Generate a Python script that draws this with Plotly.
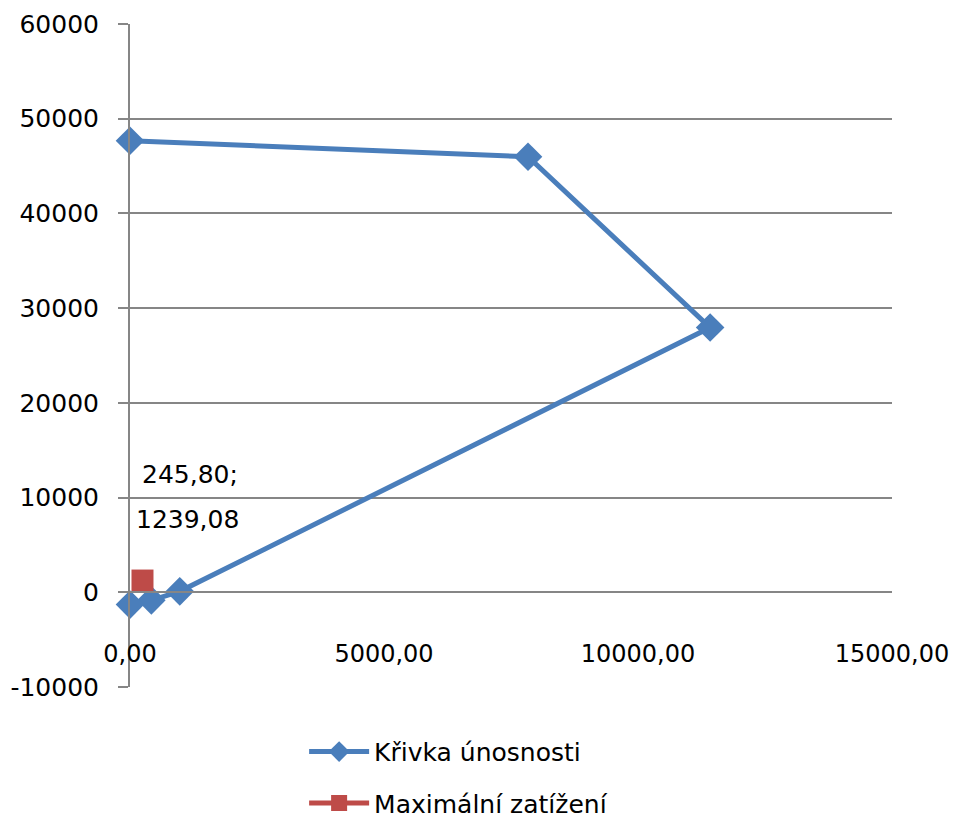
import plotly.graph_objects as go

# Křivka únosnosti (capacity curve): M on x, N on y
curve_x = [0, 7835, 11420, 980, 420, 0]
curve_y = [47680, 45990, 27950, 100, -850, -1300]

# Maximální zatížení (max load)
load_x = [245.80]
load_y = [1239.08]

x_ticks = [0, 5000, 10000, 15000]
x_ticktext = ["0,00", "5000,00", "10000,00", "15000,00"]
y_ticks = [-10000, 0, 10000, 20000, 30000, 40000, 50000, 60000]
y_ticktext = ["-10000", "0", "10000", "20000", "30000", "40000", "50000", "60000"]

BLUE = "#4A7EBB"
RED = "#BE4B48"
GRID = "#868686"
FONT = "DejaVu Sans"


def _cz(v):
    return f"{v:.2f}".replace(".", ",")


fig = go.Figure()

fig.add_trace(go.Scatter(
    x=curve_x, y=curve_y,
    name="Křivka únosnosti",
    mode="lines+markers",
    line=dict(color=BLUE, width=5),
    marker=dict(symbol="diamond", size=22, color=BLUE),
    cliponaxis=False,
    legendgroup="a",
))

fig.add_trace(go.Scatter(
    x=load_x, y=load_y,
    name="Maximální zatížení",
    mode="lines+markers",
    line=dict(color=RED, width=5),
    marker=dict(symbol="square", size=22, color=RED),
    cliponaxis=False,
    legendgroup="b",
))

# data label of the load point, two lines as in the original
fig.add_annotation(x=load_x[0], y=load_y[0], text=_cz(load_x[0]) + ";",
                   showarrow=False, xshift=48, yshift=106,
                   font=dict(family=FONT, size=25, color="#000"))
fig.add_annotation(x=load_x[0], y=load_y[0], text=_cz(load_y[0]),
                   showarrow=False, xshift=45, yshift=61,
                   font=dict(family=FONT, size=25, color="#000"))

y0_frac = 10000 / 70000

# page body keeps an 8px margin, so the figure is 16px smaller than the window
fig.update_layout(
    width=941, height=813,
    margin=dict(l=122, r=57, t=16, b=134),
    plot_bgcolor="white", paper_bgcolor="white",
    font=dict(family=FONT, size=25, color="#000"),
    showlegend=True,
    legend=dict(
        x=0.2285, xanchor="left", xref="paper",
        y=0.1134, yanchor="top", yref="container",
        traceorder="grouped", tracegroupgap=16, itemwidth=60,
        font=dict(family=FONT, size=25, color="#000"),
        bgcolor="rgba(0,0,0,0)",
    ),
    xaxis=dict(
        range=[0, 15000], automargin=False,
        tickvals=x_ticks, ticktext=x_ticktext,
        tickfont=dict(size=24), ticklabeloverflow="allow",
        showgrid=False, zeroline=False,
        showline=True, linecolor=GRID, linewidth=2,
        anchor="free", position=y0_frac,
        ticks="", ticklabelstandoff=40,
    ),
    yaxis=dict(
        range=[-10000, 60000], automargin=False,
        tickvals=y_ticks, ticktext=y_ticktext,
        tickfont=dict(size=25),
        showgrid=True, gridcolor=GRID, gridwidth=2,
        zeroline=False,
        showline=True, linecolor=GRID, linewidth=2,
        ticks="outside", ticklen=10, tickcolor=GRID, tickwidth=2,
        ticklabelstandoff=14,
    ),
)

fig.write_html("out.html")
